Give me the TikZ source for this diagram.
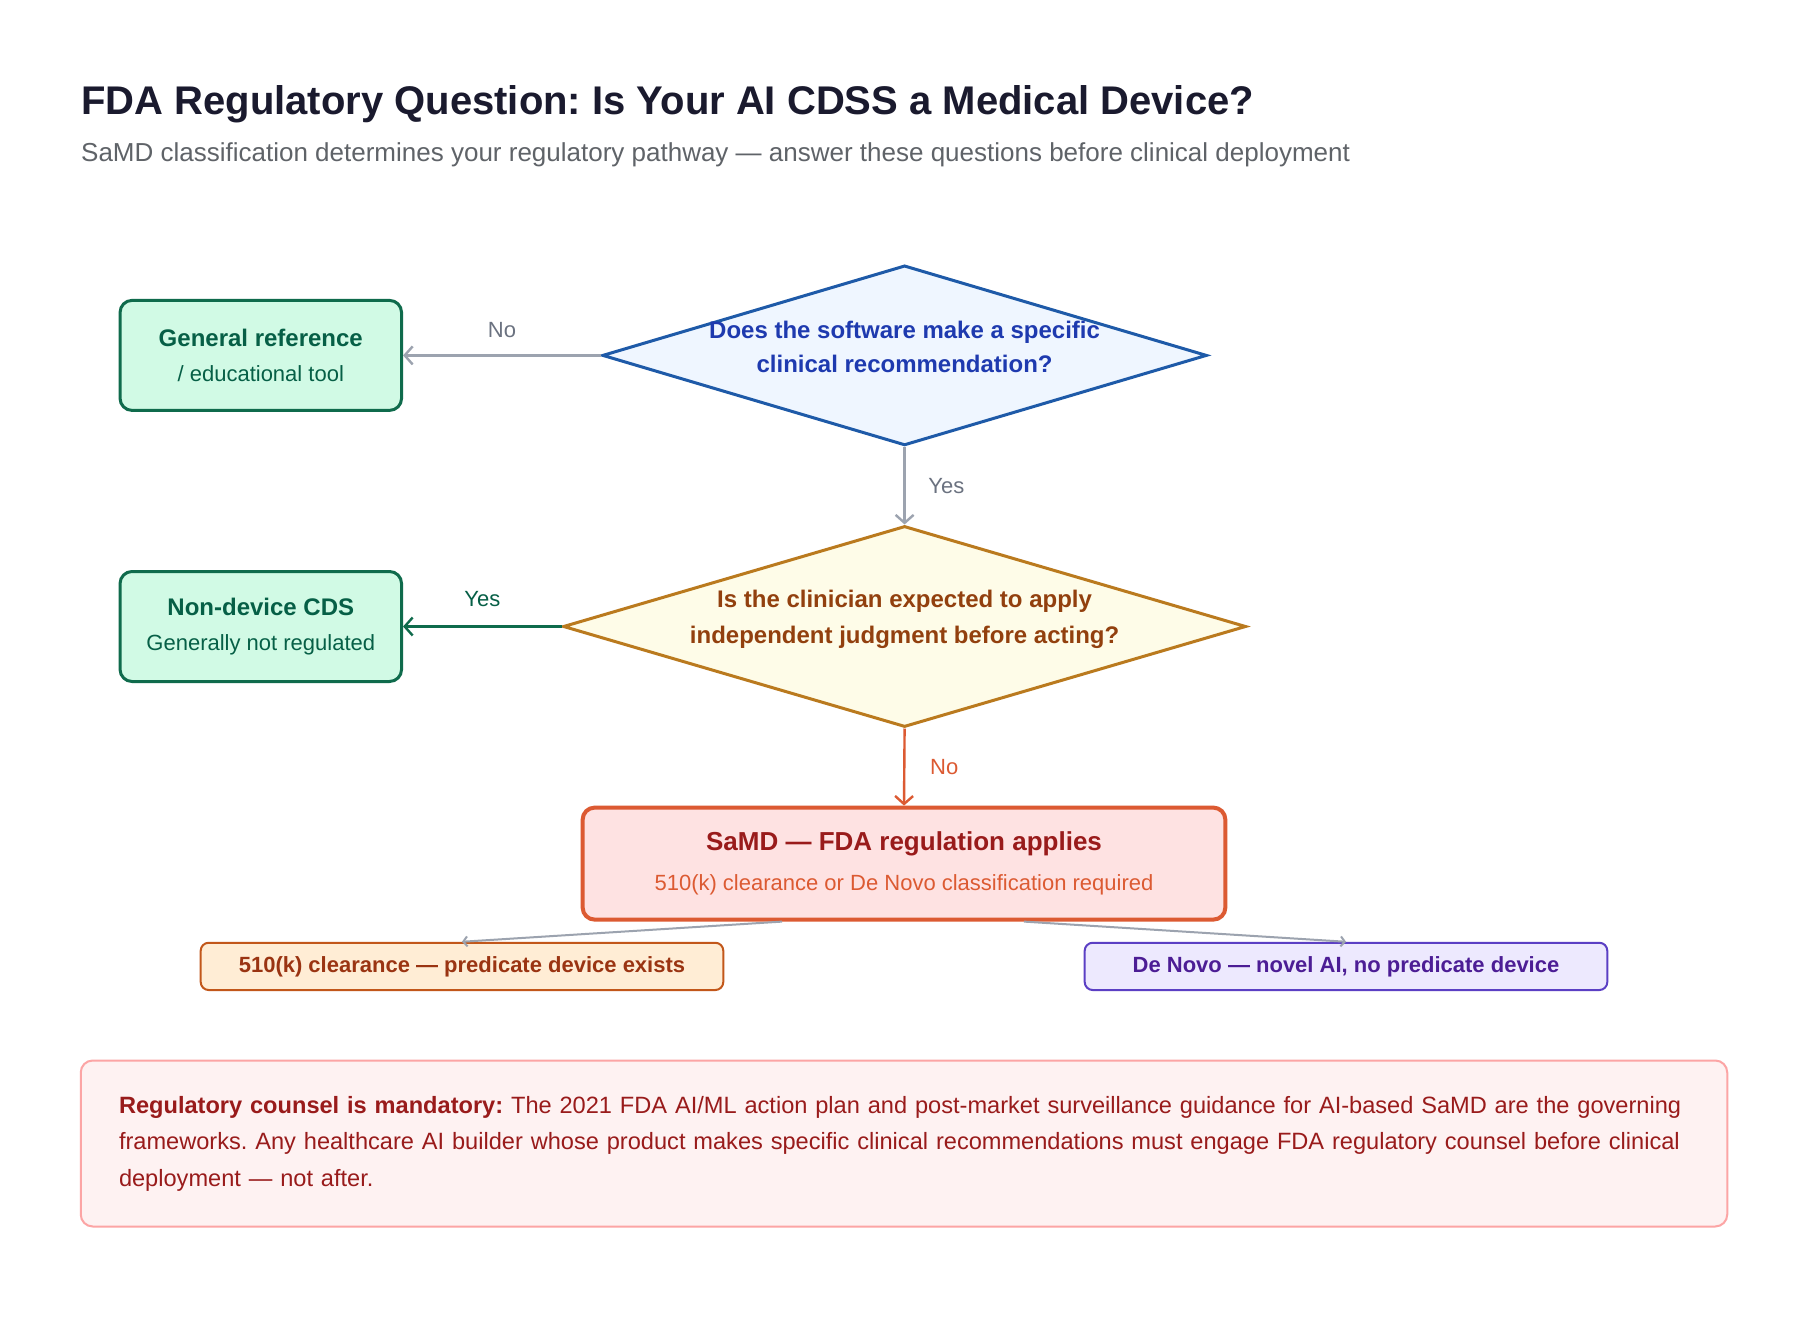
\documentclass[tikz,border=0pt]{standalone}
\usepackage{fontspec}
\setmainfont{Liberation Sans}
\frenchspacing
\usetikzlibrary{shapes.geometric,arrows.meta}
\definecolor{titlec}{HTML}{1A1A2E}
\definecolor{subc}{HTML}{5F6368}
\definecolor{qone}{HTML}{EFF6FF}
\definecolor{qoneline}{HTML}{1E5AA8}
\definecolor{qonetxt}{HTML}{1E3AAF}
\definecolor{qtwo}{HTML}{FEFCE8}
\definecolor{qtwoline}{HTML}{BA7A1E}
\definecolor{qtwotxt}{HTML}{92400E}
\definecolor{okfill}{HTML}{D1FAE5}
\definecolor{okline}{HTML}{0F6B4C}
\definecolor{oktxt}{HTML}{065F46}
\definecolor{greyline}{HTML}{9CA3AF}
\definecolor{greytxt}{HTML}{6B7280}
\definecolor{samdfill}{HTML}{FEE2E2}
\definecolor{samdline}{HTML}{DC5A32}
\definecolor{samdtxt}{HTML}{991B1B}
\definecolor{kfill}{HTML}{FFEDD5}
\definecolor{kline}{HTML}{C2571A}
\definecolor{ktxt}{HTML}{9A3412}
\definecolor{dnfill}{HTML}{EDE9FE}
\definecolor{dnline}{HTML}{5B3FC4}
\definecolor{dntxt}{HTML}{4C1D95}
\definecolor{notefill}{HTML}{FEF2F2}
\definecolor{noteline}{HTML}{FCA5A5}
\tikzset{
  decide/.style={diamond, draw, line width=1.5pt, inner sep=-8pt, align=center},
  okbox/.style={draw=okline, fill=okfill, text=oktxt, line width=1.5pt, rounded corners=6pt,
    minimum width=140.75pt, minimum height=55pt, align=center, font=\fontsize{11}{17.5}\selectfont},
  pathbox/.style={draw, line width=1pt, rounded corners=4pt, minimum width=261.3pt,
    minimum height=23.65pt, inner sep=0pt, font=\fontsize{11}{13}\selectfont\bfseries},
  flow/.style={line width=1.2pt, -{Straight Barb[length=4pt,width=9pt]}},
  lbl/.style={font=\fontsize{11}{13}\selectfont}
}
\begin{document}
\begin{tikzpicture}[x=0.5pt,y=-0.5pt]
\useasboundingbox[fill=white] (0,0) rectangle (1800,1322);

% heading
\node[anchor=base west, inner sep=0pt, text=titlec, font=\fontsize{20}{24}\selectfont\bfseries] (title) at (80.8,115)
  {FDA Regulatory Question: Is Your AI CDSS a Medical Device?};
\node[anchor=base west, inner sep=0pt, text=subc, font=\fontsize{13}{15}\selectfont] (subtitle) at (80.8,162)
  {SaMD classification determines your regulatory pathway — answer these questions before clinical deployment};

% questions
\node[decide, fill=qone, draw=qoneline, text=qonetxt, aspect=3.36, minimum width=302.3pt, minimum height=90pt,
  text depth=9pt, font=\fontsize{12}{17}\selectfont\bfseries] (q1) at (904.6,355.4)
  {Does the software make a specific\\clinical recommendation?};
\node[decide, fill=qtwo, draw=qtwoline, text=qtwotxt, aspect=3.4, minimum width=341.5pt, minimum height=100.5pt,
  text depth=10pt, font=\fontsize{12}{18}\selectfont\bfseries] (q2) at (904.6,626.5)
  {Is the clinician expected to apply\\independent judgment before acting?};

% outcomes
\node[okbox] (genref) at (260.8,355.4)
  {{\fontsize{12}{17.5}\selectfont\bfseries General reference}\\/ educational tool};
\node[okbox] (nondev) at (260.8,626.5)
  {{\fontsize{12}{17.5}\selectfont\bfseries Non-device CDS}\\Generally not regulated};
\node[draw=samdline, fill=samdfill, line width=2pt, rounded corners=6pt, minimum width=321.35pt, minimum height=56pt,
  align=center, text=samdline, font=\fontsize{11}{20}\selectfont] (samd) at (904,863.6)
  {{\fontsize{13}{20}\selectfont\bfseries\color{samdtxt}SaMD — FDA regulation applies}\\510(k) clearance or De Novo classification required};
\node[pathbox, draw=kline, fill=kfill, text=ktxt] (k510) at (462,966.4) {510(k) clearance — predicate device exists};
\node[pathbox, draw=dnline, fill=dnfill, text=dntxt] (denovo) at (1346,966.4) {De Novo — novel AI, no predicate device};

% connectors
\draw[flow, greyline] (q1.west) -- (genref.east) node[midway, above=5pt, lbl, text=greytxt] {No};
\draw[flow, greyline] (q1.south) -- (q2.north) node[midway, right=8pt, lbl, text=greytxt] {Yes};
\draw[flow, okline] (q2.west) -- (nondev.east) node[midway, above=6pt, lbl, text=oktxt] {Yes};
\draw[flow, samdline] (q2.south) -- (samd.north) node[midway, right=9pt, lbl, text=samdline] {No};
\draw[greyline, line width=1pt, -{Straight Barb[length=2pt,width=5pt]}] ([xshift=-61pt]samd.south) -- (k510.north);
\draw[greyline, line width=1pt, -{Straight Barb[length=2pt,width=5pt]}] ([xshift=60pt]samd.south) -- (denovo.north);

% note
\node[draw=noteline, fill=notefill, line width=1pt, rounded corners=6pt, minimum width=823.25pt, minimum height=83pt,
  text width=785pt, align=left, text=samdtxt, font=\fontsize{11.8}{18.25}\selectfont] (note) at (904,1143.5)
  {\textbf{Regulatory counsel is mandatory:} The 2021 FDA AI/ML action plan and post-market surveillance guidance for AI-based SaMD are the governing\\
   frameworks. Any healthcare AI builder whose product makes specific clinical recommendations must engage FDA regulatory counsel before clinical\\
   deployment — not after.};
\end{tikzpicture}
\end{document}
